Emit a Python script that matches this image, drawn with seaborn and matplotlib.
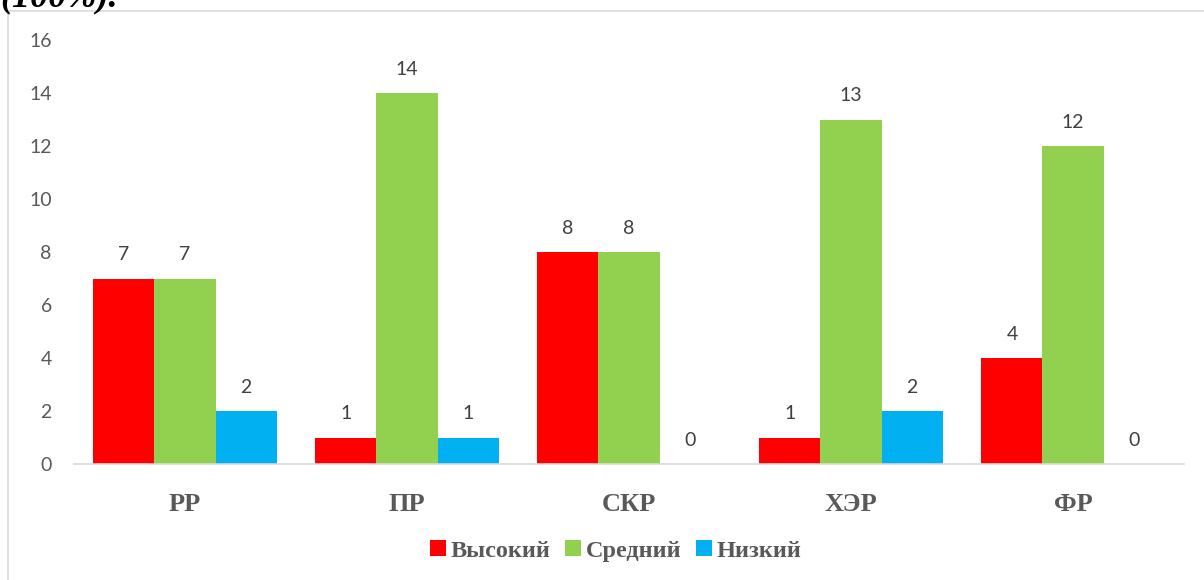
import matplotlib
matplotlib.use("Agg")
import matplotlib.pyplot as plt
import seaborn as sns
import pandas as pd
from matplotlib.patches import Rectangle

categories = ["РР", "ПР", "СКР", "ХЭР", "ФР"]
series = ["Высокий", "Средний", "Низкий"]
high = [7, 1, 8, 1, 4]
medium = [7, 14, 8, 13, 12]
low = [2, 1, 0, 2, 0]
colors = ["#FF0000", "#92D050", "#00B0F0"]
yticks = [0, 2, 4, 6, 8, 10, 12, 14, 16]

rows = []
for s, vals in zip(series, [high, medium, low]):
    for c, v in zip(categories, vals):
        rows.append({"cat": c, "series": s, "value": v})
df = pd.DataFrame(rows)

sns.set_theme(style="white")
plt.rcParams["font.family"] = ["Lato", "DejaVu Sans"]

fig = plt.figure(figsize=(12.04, 5.8), dpi=100)
ax = fig.add_axes([74 / 1204, 116 / 580, 1110 / 1204, 424 / 580])

sns.barplot(data=df, x="cat", y="value", hue="series", order=categories,
            hue_order=series, palette=colors, width=0.825, saturation=1,
            linewidth=0, ax=ax, legend=True)

ax.set_ylim(0, 16)
ax.set_xlim(-0.5, len(categories) - 0.5)
ax.set_yticks(yticks)
ax.set_yticklabels([str(t) for t in yticks], color="#595959", fontsize=14)
ax.tick_params(axis="y", length=0, pad=16)
ax.tick_params(axis="x", length=0, pad=21)
ax.set_xticks(range(len(categories)))
ax.set_xticklabels(categories, color="#595959", fontsize=19,
                   fontweight="bold", family="Liberation Serif")
ax.set_xlabel("")
ax.set_ylabel("")
for side in ["top", "right", "left"]:
    ax.spines[side].set_visible(False)
ax.spines["bottom"].set_color("#D9D9D9")
ax.spines["bottom"].set_linewidth(1.2)

for cont in ax.containers:
    ax.bar_label(cont, labels=[f"{int(v)}" for v in cont.datavalues],
                 padding=11, fontsize=14, color="#404040")

leg = ax.legend(loc="center", bbox_to_anchor=(0.488, -0.205), ncol=3,
                frameon=False, handlelength=0.65, handleheight=0.65,
                handletextpad=0.2, columnspacing=0.6,
                prop={"family": "Liberation Serif", "weight": "bold", "size": 17.5})
for t in leg.get_texts():
    t.set_color("#595959")

# chart frame
fig.patches.append(Rectangle((8 / 1204, -0.1), 1.2, 1 - 11 / 580 + 0.1,
                             transform=fig.transFigure, fill=False,
                             edgecolor="#D9D9D9", linewidth=1.2))
# clipped document text above the chart (cut off in the reference too)
fig.text(0.0, 1 - 6 / 580, "(100%).", fontsize=26, fontweight="bold",
         style="italic", family="Liberation Serif", color="black",
         va="baseline", ha="left")

fig.savefig("out.png", dpi=100)
